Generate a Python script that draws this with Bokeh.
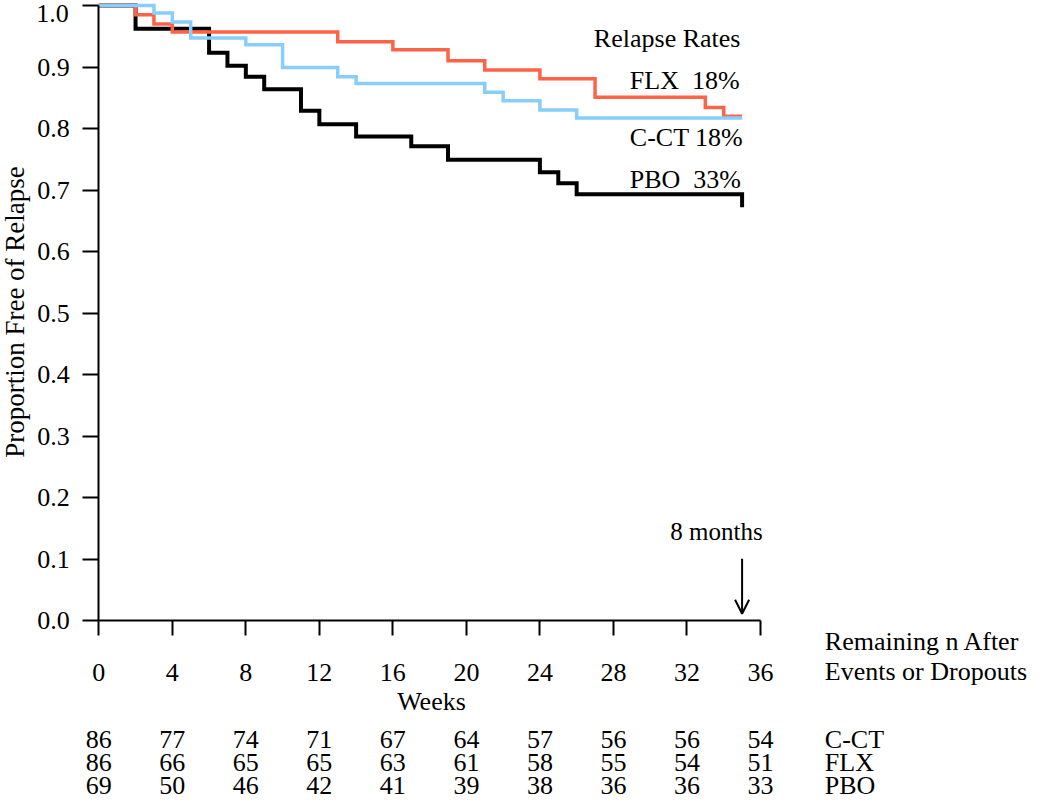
import math
from bokeh.plotting import figure
from bokeh.models import (ColumnDataSource, Label, LabelSet, Arrow, OpenHead,
                          FixedTicker, PrintfTickFormatter, Range1d)
from bokeh.core.properties import value
from bokeh.embed import file_html
from bokeh.resources import INLINE

# ---------------- data ----------------
cct_weeks = [0, 3, 4, 5, 8, 10, 13, 14, 21, 22, 24, 26]
cct_surv = [1.0, 0.988, 0.973, 0.947, 0.936, 0.899, 0.884, 0.873, 0.859, 0.845, 0.830, 0.817]

flx_weeks = [0, 2, 3, 4, 13, 16, 19, 21, 24, 27, 33, 34]
flx_surv = [1.0, 0.985, 0.970, 0.957, 0.941, 0.928, 0.910, 0.895, 0.881, 0.851, 0.834, 0.820]

pbo_weeks = [0, 2, 6, 7, 8, 9, 11, 12, 14, 17, 19, 24, 25, 26]
pbo_surv = [1.0, 0.962, 0.923, 0.902, 0.884, 0.864, 0.829, 0.807, 0.787, 0.771, 0.749, 0.729, 0.711, 0.693]

follow_up_end = 35          # 8 months
pbo_final = 0.672

x_ticks = [0, 4, 8, 12, 16, 20, 24, 28, 32, 36]
y_ticks = [0.0, 0.1, 0.2, 0.3, 0.4, 0.5, 0.6, 0.7, 0.8, 0.9, 1.0]

n_weeks = [0, 4, 8, 12, 16, 20, 24, 28, 32, 36]
n_cct = [86, 77, 74, 71, 67, 64, 57, 56, 56, 54]
n_flx = [86, 66, 65, 65, 63, 61, 58, 55, 54, 51]
n_pbo = [69, 50, 46, 42, 41, 39, 38, 36, 36, 33]

rate_labels = ["FLX\u00a0\u00a018%", "C-CT 18%", "PBO\u00a0\u00a033%"]
group_names = ["C-CT", "FLX", "PBO"]

# ---------------- styling ----------------
FONT = "Liberation Serif"
FS = "26px"
RED = "#FF6347"
BLUE = "#87CEFA"
BLACK = "#000000"

W, H = 1050, 802
p = figure(width=W, height=H, output_backend="svg", toolbar_location=None,
           x_range=Range1d(-5.348, 51.78), y_range=Range1d(-0.29593, 1.00813),
           min_border_left=0, min_border_right=0,
           min_border_top=0, min_border_bottom=0,
           background_fill_color="white", border_fill_color="white")
p.outline_line_color = None
p.xgrid.visible = False
p.ygrid.visible = False

# axes crossing at the origin
p.xaxis.fixed_location = 0
p.xaxis.bounds = (0, 36)
p.yaxis.fixed_location = 0
p.yaxis.bounds = (0, 1)
p.xaxis.ticker = FixedTicker(ticks=x_ticks, minor_ticks=[])
p.yaxis.ticker = FixedTicker(ticks=y_ticks, minor_ticks=[])
p.yaxis.formatter = PrintfTickFormatter(format="%.1f")
p.yaxis.major_label_overrides = {1.0: ""}
for ax in (p.xaxis, p.yaxis):
    ax.axis_line_width = 2
    ax.axis_line_color = BLACK
    ax.major_tick_line_width = 2
    ax.major_tick_line_color = BLACK
    ax.major_tick_in = 0
    ax.minor_tick_line_color = None
    ax.major_label_text_font = FONT
    ax.major_label_text_font_size = FS
    ax.major_label_text_color = BLACK
p.xaxis.major_tick_out = 15
p.xaxis.major_label_standoff = 28
p.yaxis.major_tick_out = 16
p.yaxis.major_label_standoff = 13


def step_xy(weeks, surv, end, final=None):
    xs = list(weeks) + [end]
    ys = list(surv) + [surv[-1]]
    if final is not None:
        xs.append(end)
        ys.append(final)
    return xs, ys


xs, ys = step_xy(pbo_weeks, pbo_surv, follow_up_end, pbo_final)
p.step(xs, ys, mode="after", line_color=BLACK, line_width=4, line_join="miter")
xs, ys = step_xy(flx_weeks, flx_surv, follow_up_end)
p.step(xs, ys, mode="after", line_color=RED, line_width=3.5, line_join="miter")
xs, ys = step_xy(cct_weeks, cct_surv, follow_up_end)
p.step(xs, ys, mode="after", line_color=BLUE, line_width=3.5, line_join="miter")


def lab(x, y, text, align="left", angle=0.0, size=FS):
    p.add_layout(Label(x=x, y=y, text=text, text_font=FONT, text_font_size=size,
                       text_color=BLACK, text_align=align, text_baseline="middle",
                       angle=angle))


# top tick label, nudged down so it stays inside the page as in the original
lab(-1.632, 0.9878, "1.0", align="right")

# relapse-rate annotations
lab(34.91, 0.9463, "Relapse Rates", align="right")
lab(28.89, 0.8780, rate_labels[0])
lab(28.89, 0.7854, rate_labels[1])
lab(28.89, 0.7171, rate_labels[2])

# 8 months marker
lab(33.61, 0.1447, "8 months", align="center", size="25px")
p.add_layout(Arrow(end=OpenHead(size=14, line_width=2, line_color=BLACK),
                   x_start=follow_up_end, y_start=0.1003,
                   x_end=follow_up_end, y_end=0.0109,
                   line_width=2, line_color=BLACK))

# axis titles
lab(-4.559, 0.5016, "Proportion Free of Relapse", align="center",
    angle=math.pi / 2, size="27px")
lab(18.10, -0.1317, "Weeks", align="center")
lab(39.5, -0.0341, "Remaining n After")
lab(39.5, -0.0829, "Events or Dropouts")

# remaining-n table
row_y = [-0.1935, -0.2309, -0.2683]
for counts, ry, name in zip([n_cct, n_flx, n_pbo], row_y, group_names):
    src = ColumnDataSource(dict(x=n_weeks, y=[ry] * len(n_weeks),
                                t=[str(c) for c in counts]))
    p.add_layout(LabelSet(x="x", y="y", text="t", source=src,
                          text_font=value(FONT), text_font_size=FS,
                          text_color=BLACK, text_align="center",
                          text_baseline="middle"))
    lab(39.5, ry, name)

open("out.html", "w").write(file_html(p, INLINE))
